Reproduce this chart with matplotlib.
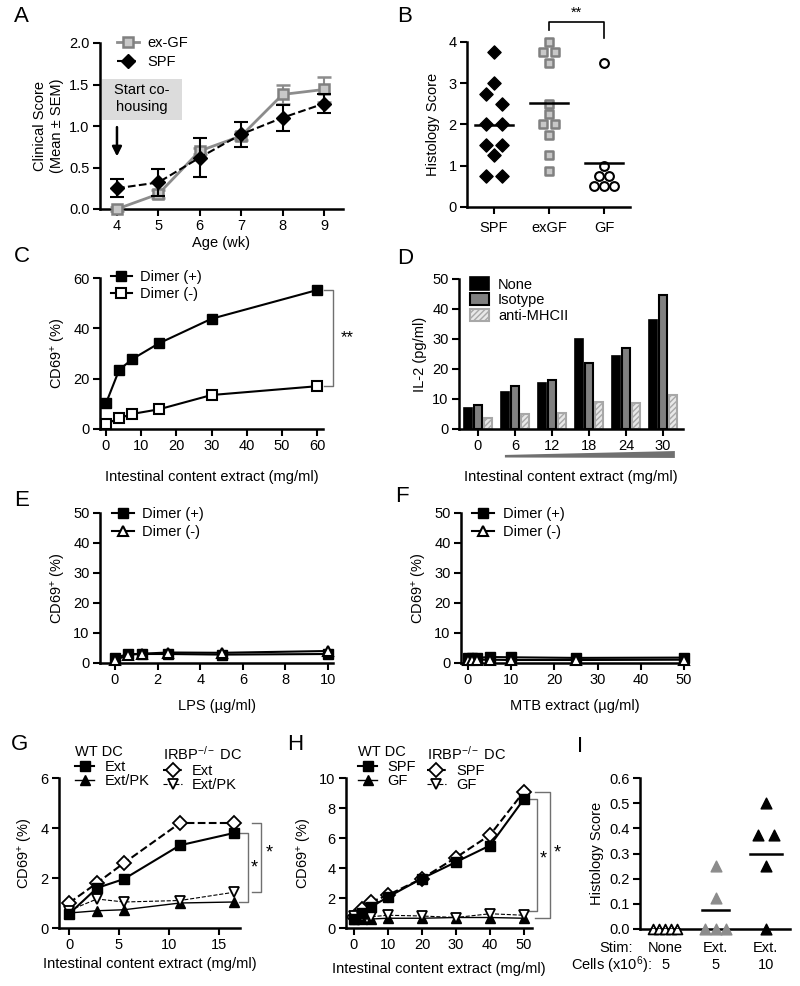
import matplotlib
matplotlib.use("Agg")
import matplotlib.pyplot as plt
import numpy as np
from matplotlib.lines import Line2D
from matplotlib.patches import Patch, Rectangle, Polygon
import matplotlib.transforms as mtransforms

plt.rcParams['font.family'] = ['Liberation Sans', 'DejaVu Sans']
plt.rcParams['mathtext.fontset'] = 'custom'
plt.rcParams['mathtext.rm'] = 'Liberation Sans'
plt.rcParams['mathtext.it'] = 'Liberation Sans:italic'
FS = 10.5
plt.rcParams['font.size'] = FS

# ---- data ----
# A: clinical score
age_wk = [4, 5, 6, 7, 8, 9]
exgf_score = [0.0, 0.18, 0.70, 0.88, 1.38, 1.44]
exgf_sem = [0.02, 0.05, 0.04, 0.05, 0.12, 0.15]
spf_score = [0.25, 0.32, 0.62, 0.90, 1.10, 1.27]
spf_sem = [0.11, 0.16, 0.24, 0.15, 0.155, 0.11]

# B: histology
b_groups = ["SPF", "exGF", "GF"]
spf_hist = [3.75, 3.0, 2.75, 2.5, 2.0, 2.0, 1.5, 1.5, 1.25, 0.75, 0.75]
exgf_hist = [4.0, 3.75, 3.75, 3.5, 2.5, 2.25, 2.0, 2.0, 1.75, 1.25, 0.875]
gf_hist = [3.5, 1.0, 0.75, 0.75, 0.5, 0.5, 0.5]

# C: CD69 vs extract
c_x = [0, 3.75, 7.5, 15, 30, 60]
c_pos = [10.2, 23.5, 27.8, 34.0, 43.8, 55.2]
c_neg = [2.0, 4.3, 6.0, 7.8, 13.5, 17.0]

# D: IL-2
d_dose = [0, 6, 12, 18, 24, 30]
il2_none = [7.0, 12.5, 15.5, 30.0, 24.5, 36.3]
il2_iso = [8.0, 14.2, 16.3, 22.0, 27.0, 44.7]
il2_mhc = [3.7, 5.0, 5.3, 9.0, 8.7, 11.3]

# E: LPS
lps = [0, 0.625, 1.25, 2.5, 5, 10]
e_pos = [1.7, 3.0, 3.0, 3.0, 2.8, 3.0]
e_neg = [0.9, 2.7, 3.1, 3.5, 3.4, 4.0]

# F: MTB
mtb = [0, 1, 2, 5, 10, 25, 50]
f_pos = [1.6, 1.6, 1.7, 2.0, 1.9, 1.7, 1.8]
f_neg = [1.0, 1.1, 1.1, 1.1, 1.0, 1.0, 1.1]

# G
g_x = [0, 2.8, 5.5, 11.1, 16.5]
g_wt_ext = [0.56, 1.6, 1.96, 3.31, 3.8]
g_wt_pk = [0.6, 0.69, 0.73, 1.0, 1.04]
g_ko_ext = [1.0, 1.8, 2.6, 4.2, 4.2]
g_ko_pk = [0.7, 1.16, 1.04, 1.1, 1.43]

# H
h_x = [0, 2.5, 5, 10, 20, 30, 40, 50]
h_wt_spf = [0.6, 1.0, 1.4, 2.07, 3.3, 4.4, 5.5, 8.6]
h_wt_gf = [0.6, 0.6, 0.6, 0.65, 0.65, 0.7, 0.7, 0.65]
h_ko_spf = [0.75, 1.27, 1.73, 2.2, 3.3, 4.7, 6.2, 9.1]
h_ko_gf = [0.8, 0.75, 0.75, 0.85, 0.8, 0.7, 0.95, 0.85]

# I
i_stim = ["None", "Ext.", "Ext."]
i_cells = ["5", "5", "10"]
none_hist = [0, 0, 0, 0, 0]
ext5_hist = [0.25, 0.125, 0, 0, 0]
ext10_hist = [0.5, 0.375, 0.375, 0.25, 0]

# scatter spread (layout only)
spf_dx = [0, 0, -1, 1, -1, 1, -1, 1, 0, -1, 1]
exgf_dx = [0, -1, 1, 0, 0, 0, -1, 1, 0, 0, 0]
gf_dx = [0, 0, -0.5, 0.5, -1, 0, 1]
none_dx = [-2, -1, 0, 1, 2]
ext5_dx = [0, 0, -1, 0, 1]
ext10_dx = [0, -1, 1, 0, 0]

W, H = 800, 986
fig = plt.figure(figsize=(8, 9.86), dpi=100)


def px_axes(l, r, t, b):
    return fig.add_axes([l / W, 1 - b / H, (r - l) / W, (b - t) / H])


def style(ax):
    for s in ['top', 'right']:
        ax.spines[s].set_visible(False)
    for s in ['left', 'bottom']:
        ax.spines[s].set_linewidth(1.8)
    ax.tick_params(direction='out', length=5, width=1.5, labelsize=FS, pad=2.5)


def letter(x, y, s):
    fig.text(x / W, 1 - y / H, s, fontsize=16, ha='center', va='center')


def bracket(ax, x, y1, y2, dx, color='#707070'):
    ax.plot([x - dx, x, x, x - dx], [y1, y1, y2, y2], color=color, lw=1, clip_on=False)


# ---------- A ----------
ax = px_axes(100, 343, 43, 209)
style(ax)
ax.errorbar(age_wk, exgf_score, yerr=exgf_sem, color='#8c8c8c', lw=2, marker='s', ms=7,
            mfc='#c8c8c8', mec='#808080', mew=1.8, capsize=5, elinewidth=1.5, capthick=1.5,
            clip_on=False, zorder=3)
ax.errorbar(age_wk, spf_score, yerr=spf_sem, color='black', lw=1.5, ls='--', marker='D', ms=7,
            capsize=5, elinewidth=1.5, capthick=1.5, clip_on=False, zorder=4)
ax.set_xlim(3.59, 9.46)
ax.set_ylim(0, 2.0)
ax.set_xticks(age_wk)
ax.set_yticks([0, 0.5, 1.0, 1.5, 2.0])
ax.set_yticklabels(["0.0", "0.5", "1.0", "1.5", "2.0"])
ax.set_xlabel("Age (wk)", fontsize=FS, labelpad=2)
ax.set_ylabel("Clinical Score\n(Mean ± SEM)", fontsize=FS, labelpad=4)
ax.add_patch(Rectangle((3.64, 1.07), 1.93, 0.5, facecolor='#dcdcdc', edgecolor='none', clip_on=False))
ax.text(4.6, 1.33, "Start co-\nhousing", ha='center', va='center', fontsize=FS, linespacing=1.3)
ax.annotate("", xy=(4, 0.6), xytext=(4, 1.02),
            arrowprops=dict(arrowstyle='-|>', color='black', lw=1.8, mutation_scale=14))
hA = [Line2D([], [], color='#8c8c8c', lw=2, marker='s', ms=7, mfc='#c8c8c8', mec='#808080', mew=1.8),
      Line2D([], [], color='black', lw=1.5, ls='--', marker='D', ms=7)]
ax.legend(hA, ["ex-GF", "SPF"], loc='upper left', bbox_to_anchor=(0.07, 1.04), frameon=False,
          handlelength=1.5, handletextpad=0.6, labelspacing=0.3, borderpad=0, borderaxespad=0)
letter(21, 17, "A")

# ---------- B ----------
ax = px_axes(467, 630, 42, 207)
style(ax)
ax.scatter(0 + 0.14 * np.array(spf_dx), spf_hist, marker='D', s=45, color='black', zorder=3, clip_on=False)
ax.scatter(1 + 0.11 * np.array(exgf_dx), exgf_hist, marker='s', s=40, facecolor='#c8c8c8',
           edgecolor='#808080', linewidth=1.8, zorder=3, clip_on=False)
ax.scatter(2 + 0.18 * np.array(gf_dx), gf_hist, marker='o', s=40, facecolor='white',
           edgecolor='black', linewidth=1.5, zorder=3, clip_on=False)
for i, vals in enumerate([spf_hist, exgf_hist, gf_hist]):
    m = np.mean(vals)
    ax.plot([i - 0.34, i + 0.34], [m, m], color='black', lw=1.8, zorder=4)
ax.set_xlim(-0.49, 2.47)
ax.set_ylim(0, 4)
ax.set_xticks([0, 1, 2])
ax.set_xticklabels(b_groups)
ax.set_yticks([0, 1, 2, 3, 4])
ax.tick_params(axis='x', pad=5)
ax.set_ylabel("Histology Score", fontsize=FS, labelpad=6)
ax.plot([1, 1, 2, 2], [4.3, 4.48, 4.48, 4.1], color='black', lw=1.2, clip_on=False)
ax.text(1.5, 4.55, "**", ha='center', va='bottom', fontsize=FS)
letter(405, 17, "B")

# ---------- C ----------
ax = px_axes(100, 323, 278, 429)
style(ax)
ax.plot(c_x, c_pos, color='black', lw=1.5, marker='s', ms=6.5, clip_on=False, zorder=3)
ax.plot(c_x, c_neg, color='black', lw=1.5, marker='s', ms=6.5, mfc='white', mew=1.5,
        clip_on=False, zorder=3)
ax.set_xlim(-1.7, 61.7)
ax.set_ylim(0, 60)
ax.set_xticks([0, 10, 20, 30, 40, 50, 60])
ax.set_yticks([0, 20, 40, 60])
ax.set_xlabel("Intestinal content extract (mg/ml)", fontsize=FS, labelpad=12)
ax.set_ylabel("CD69$^{+}$ (%)", fontsize=FS, labelpad=4)
bracket(ax, 64.5, c_pos[-1], c_neg[-1], 2.5)
ax.text(68.5, 36.5, "**", ha='center', va='center', fontsize=12)
hC = [Line2D([], [], color='black', lw=1.5, marker='s', ms=6.5),
      Line2D([], [], color='black', lw=1.5, marker='s', ms=6.5, mfc='white', mew=1.5)]
ax.legend(hC, ["Dimer (+)", "Dimer (-)"], loc='upper left', bbox_to_anchor=(0.05, 1.05),
          frameon=False, handlelength=1.4, handletextpad=0.6, labelspacing=0.2, borderpad=0,
          borderaxespad=0)
letter(22, 256, "C")

# ---------- D ----------
ax = px_axes(459, 683, 279, 429)
style(ax)
pos = np.arange(len(d_dose))
ax.bar(pos - 0.27, il2_none, width=0.23, color='black', edgecolor='black', lw=1.2)
ax.bar(pos, il2_iso, width=0.23, color='#808080', edgecolor='black', lw=1.5)
ax.bar(pos + 0.27, il2_mhc, width=0.23, color='#e8e8e8', edgecolor='#a8a8a8', lw=1.5, hatch='//////')
ax.set_xlim(-0.51, 5.54)
ax.set_ylim(0, 50)
ax.set_xticks(pos)
ax.set_xticklabels([str(d) for d in d_dose])
ax.set_yticks([0, 10, 20, 30, 40, 50])
ax.set_xlabel("Intestinal content extract (mg/ml)", fontsize=FS, labelpad=12)
ax.set_ylabel("IL-2 (pg/ml)", fontsize=FS, labelpad=4)
trD = mtransforms.blended_transform_factory(ax.transData, ax.transAxes)
ax.add_patch(Polygon([(0.73, -0.19), (0.73, -0.173), (5.32, -0.147), (5.32, -0.193)],
                     closed=True, facecolor='#707070', edgecolor='none', transform=trD, clip_on=False))
hD = [Patch(facecolor='black', edgecolor='black', lw=1.2),
      Patch(facecolor='#808080', edgecolor='black', lw=1.5),
      Patch(facecolor='#e8e8e8', edgecolor='#a8a8a8', lw=1.5, hatch='//////')]
ax.legend(hD, ["None", "Isotype", "anti-MHCII"], loc='upper left', bbox_to_anchor=(0.05, 1.01),
          frameon=False, handlelength=1.3, handleheight=0.9, handletextpad=0.6, labelspacing=0.1,
          borderpad=0, borderaxespad=0)
letter(405, 259, "D")

# ---------- E ----------
ax = px_axes(100, 333, 513, 663)
style(ax)
ax.plot(lps, e_pos, color='black', lw=1.5, marker='s', ms=6.5, clip_on=False, zorder=3)
ax.plot(lps, e_neg, color='black', lw=1.5, marker='^', ms=7, mfc='white', mew=1.5,
        clip_on=False, zorder=4)
ax.set_xlim(-0.7, 10.23)
ax.set_ylim(0, 50)
ax.set_xticks([0, 2, 4, 6, 8, 10])
ax.set_yticks([0, 10, 20, 30, 40, 50])
ax.set_xlabel("LPS (µg/ml)", fontsize=FS, labelpad=8)
ax.set_ylabel("CD69$^{+}$ (%)", fontsize=FS, labelpad=4)
hE = [Line2D([], [], color='black', lw=1.5, marker='s', ms=6.5),
      Line2D([], [], color='black', lw=1.5, marker='^', ms=7, mfc='white', mew=1.5)]
ax.legend(hE, ["Dimer (+)", "Dimer (-)"], loc='upper left', bbox_to_anchor=(0.05, 1.04),
          frameon=False, handlelength=1.5, handletextpad=0.6, labelspacing=0.3, borderpad=0,
          borderaxespad=0)
letter(22, 500, "E")

# ---------- F ----------
ax = px_axes(461, 688, 513, 663)
style(ax)
ax.plot(mtb, f_pos, color='black', lw=1.5, marker='s', ms=6.5, clip_on=False, zorder=3)
ax.plot(mtb, f_neg, color='black', lw=1.5, marker='^', ms=7, mfc='white', mew=1.5,
        clip_on=False, zorder=4)
ax.set_xlim(-1.6, 50.9)
ax.set_ylim(0, 50)
ax.set_xticks([0, 10, 20, 30, 40, 50])
ax.set_yticks([0, 10, 20, 30, 40, 50])
ax.set_xlabel("MTB extract (µg/ml)", fontsize=FS, labelpad=8)
ax.set_ylabel("CD69$^{+}$ (%)", fontsize=FS, labelpad=4)
ax.legend(hE, ["Dimer (+)", "Dimer (-)"], loc='upper left', bbox_to_anchor=(0.05, 1.04),
          frameon=False, handlelength=1.5, handletextpad=0.6, labelspacing=0.3, borderpad=0,
          borderaxespad=0)
letter(402, 496, "F")

# ---------- G ----------
ax = px_axes(59, 240, 778, 928)
style(ax)
ax.plot(g_x, g_wt_ext, color='black', lw=1.5, marker='s', ms=7, clip_on=False, zorder=4)
ax.plot(g_x, g_wt_pk, color='black', lw=1, marker='^', ms=7, clip_on=False, zorder=3)
ax.plot(g_x, g_ko_ext, color='black', lw=1.5, ls='--', marker='D', ms=7, mfc='white', mew=1.3,
        clip_on=False, zorder=3)
ax.plot(g_x, g_ko_pk, color='black', lw=0.8, ls='--', marker='v', ms=7, mfc='white', mew=1.3,
        clip_on=False, zorder=3)
ax.set_xlim(-1.0, 17.1)
ax.set_ylim(0, 6)
ax.set_xticks([0, 5, 10, 15])
ax.set_yticks([0, 2, 4, 6])
ax.set_xlabel("Intestinal content extract (mg/ml)", fontsize=FS, labelpad=3)
ax.set_ylabel("CD69$^{+}$ (%)", fontsize=FS, labelpad=4)
bracket(ax, 17.9, g_wt_ext[-1], g_wt_pk[-1], 0.9)
bracket(ax, 19.2, g_ko_ext[-1], g_ko_pk[-1], 0.9)
ax.text(18.5, 2.4, "*", ha='center', va='center', fontsize=13)
ax.text(20.0, 3.0, "*", ha='center', va='center', fontsize=13)
hG1 = [Line2D([], [], color='black', lw=1.5, marker='s', ms=7),
       Line2D([], [], color='black', lw=1, marker='^', ms=7)]
hG2 = [Line2D([], [], color='black', lw=1.5, ls='--', marker='D', ms=7, mfc='white', mew=1.3),
       Line2D([], [], color='black', lw=0.8, ls='--', marker='v', ms=7, mfc='white', mew=1.3)]
lkw = dict(loc='upper left', frameon=False, handlelength=1.3, handletextpad=0.7, labelspacing=0.05,
           borderpad=0, borderaxespad=0, alignment='left', title_fontsize=FS)
leg = ax.legend(hG1, ["Ext", "Ext/PK"], title="WT DC", bbox_to_anchor=(0.09, 1.22), **lkw)
ax.add_artist(leg)
ax.legend(hG2, ["Ext", "Ext/PK"], title="IRBP$^{-/-}$ DC", bbox_to_anchor=(0.575, 1.22), **lkw)
letter(20, 745, "G")

# ---------- H ----------
ax = px_axes(346, 532, 778, 928)
style(ax)
ax.plot(h_x, h_wt_spf, color='black', lw=1.5, marker='s', ms=7, clip_on=False, zorder=4)
ax.plot(h_x, h_wt_gf, color='black', lw=1, marker='^', ms=7, clip_on=False, zorder=3)
ax.plot(h_x, h_ko_spf, color='black', lw=1.5, ls='--', marker='D', ms=7, mfc='white', mew=1.3,
        clip_on=False, zorder=3)
ax.plot(h_x, h_ko_gf, color='black', lw=0.8, ls='--', marker='v', ms=7, mfc='white', mew=1.3,
        clip_on=False, zorder=3)
ax.set_xlim(-2.35, 52.35)
ax.set_ylim(0, 10)
ax.set_xticks([0, 10, 20, 30, 40, 50])
ax.set_yticks([0, 2, 4, 6, 8, 10])
ax.set_xlabel("Intestinal content extract (mg/ml)", fontsize=FS, labelpad=7)
ax.set_ylabel("CD69$^{+}$ (%)", fontsize=FS, labelpad=4)
bracket(ax, 53.8, h_wt_spf[-1], 1.15, 2.5)
bracket(ax, 57.6, h_ko_spf[-1], 0.69, 4.5)
ax.text(55.6, 4.6, "*", ha='center', va='center', fontsize=13)
ax.text(59.7, 5.0, "*", ha='center', va='center', fontsize=13)
hH1 = [Line2D([], [], color='black', lw=1.5, marker='s', ms=7),
       Line2D([], [], color='black', lw=1, marker='^', ms=7)]
hH2 = [Line2D([], [], color='black', lw=1.5, ls='--', marker='D', ms=7, mfc='white', mew=1.3),
       Line2D([], [], color='black', lw=0.8, ls='--', marker='v', ms=7, mfc='white', mew=1.3)]
leg = ax.legend(hH1, ["SPF", "GF"], title="WT DC", bbox_to_anchor=(0.065, 1.22), **lkw)
ax.add_artist(leg)
ax.legend(hH2, ["SPF", "GF"], title="IRBP$^{-/-}$ DC", bbox_to_anchor=(0.435, 1.22), **lkw)
letter(295, 745, "H")

# ---------- I ----------
ax = px_axes(640, 790, 778, 929)
style(ax)
ax.scatter(0 + 0.12 * np.array(none_dx), none_hist, marker='^', s=50, facecolor='white',
           edgecolor='black', linewidth=1.3, zorder=3, clip_on=False)
ax.scatter(1 + 0.2 * np.array(ext5_dx), ext5_hist, marker='^', s=60, color='#8c8c8c',
           zorder=3, clip_on=False)
ax.scatter(2 + 0.16 * np.array(ext10_dx), ext10_hist, marker='^', s=60, color='black',
           zorder=3, clip_on=False)
for i, (vals, hw) in enumerate([(none_hist, 0.27), (ext5_hist, 0.27), (ext10_hist, 0.32)]):
    m = np.mean(vals)
    ax.plot([i - hw, i + hw], [m, m], color='black', lw=1.8, zorder=4)
ax.set_xlim(-0.5, 2.48)
ax.set_ylim(0, 0.6)
ax.set_xticks([])
ax.set_yticks([0, 0.1, 0.2, 0.3, 0.4, 0.5, 0.6])
ax.set_yticklabels(["0.0", "0.1", "0.2", "0.3", "0.4", "0.5", "0.6"])
ax.set_ylabel("Histology Score", fontsize=FS, labelpad=4)
trI = mtransforms.blended_transform_factory(ax.transData, ax.transAxes)
ax.text(-0.65, -0.126, "Stim:", ha='right', va='center', transform=trI, fontsize=FS)
ax.text(-0.27, -0.238, "Cells (x10$^{6}$):", ha='right', va='center', transform=trI, fontsize=FS)
for i in range(3):
    ax.text(i, -0.126, i_stim[i], ha='center', va='center', transform=trI, fontsize=FS)
    ax.text(i, -0.238, i_cells[i], ha='center', va='center', transform=trI, fontsize=FS)
letter(580, 747, "I")

fig.savefig("out.png", dpi=100)
